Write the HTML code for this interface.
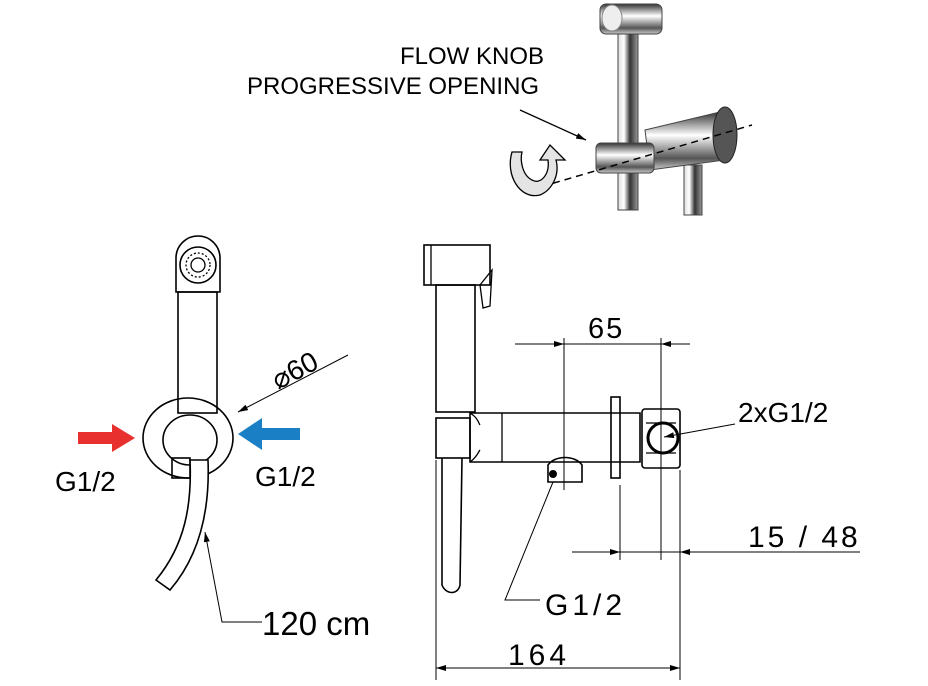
<!DOCTYPE html>
<html><head><style>
html,body{margin:0;padding:0;background:#fff}
svg{display:block}
text{font-family:"Liberation Sans",sans-serif;fill:#000}
</style></head><body>
<svg width="928" height="686" viewBox="0 0 928 686" xmlns="http://www.w3.org/2000/svg">
<defs>
<marker id="ah" markerWidth="10" markerHeight="6" refX="10" refY="3" orient="auto" markerUnits="userSpaceOnUse"><path d="M0,0 L10,3 L0,6 Z" fill="#000"/></marker>
<linearGradient id="chr" x1="0" x2="1"><stop offset="0" stop-color="#ddd"/><stop offset="0.3" stop-color="#fff"/><stop offset="0.6" stop-color="#333"/><stop offset="1" stop-color="#999"/></linearGradient>
<linearGradient id="chrv" x1="0" y1="0" x2="0" y2="1"><stop offset="0" stop-color="#333"/><stop offset="0.4" stop-color="#fff"/><stop offset="0.8" stop-color="#555"/><stop offset="1" stop-color="#ccc"/></linearGradient>
</defs>
<g stroke="#000" fill="none" stroke-width="2">
<!-- top product -->
<text x="400" y="64" font-size="24" stroke="none">FLOW KNOB</text>
<text x="247" y="94" font-size="24" stroke="none">PROGRESSIVE OPENING</text>
<line x1="520" y1="110" x2="586" y2="140" stroke-width="1.3" marker-end="url(#ah)"/>
<rect x="618" y="30" width="20" height="180" fill="url(#chr)" stroke="#444" stroke-width="1"/>
<rect x="600" y="4" width="62" height="30" rx="6" fill="url(#chrv)" stroke="#444" stroke-width="1"/>
<ellipse cx="612" cy="18" rx="10" ry="13" fill="#eee" stroke="#888" stroke-width="1"/>
<rect x="684" y="165" width="18" height="50" fill="url(#chr)" stroke="#444" stroke-width="1"/>
<path d="M645 130 L720 112 L725 160 L650 170 Z" fill="url(#chrv)" stroke="#444" stroke-width="1"/>
<ellipse cx="725" cy="135" rx="12" ry="28" fill="#555" stroke="#222" stroke-width="1"/>
<rect x="596" y="143" width="58" height="30" rx="5" fill="url(#chrv)" stroke="#444" stroke-width="1"/>
<line x1="530" y1="190" x2="752" y2="125" stroke-width="1.5" stroke-dasharray="7,5"/>
<path d="M512 152 C505 175 520 200 540 195 C552 190 560 175 556 160 L565 160 L550 145 L540 160 L548 160 C550 175 540 185 532 180 C522 175 520 160 522 152 Z" fill="#e4e4e4" stroke-width="1.3"/>
<!-- left view -->
<path d="M176 292 L176 258 A22 22 0 0 1 220 258 L220 292 Z" stroke-width="1.6"/>
<circle cx="198" cy="265" r="18" stroke-width="1.6"/>
<circle cx="198" cy="265" r="12" stroke-width="1.3" stroke-dasharray="2,2"/>
<circle cx="198" cy="265" r="7" stroke-width="1.3"/>
<rect x="178" y="292" width="39" height="121" stroke-width="1.6"/>
<ellipse cx="188" cy="438" rx="45" ry="40" stroke-width="1.6"/>
<ellipse cx="190" cy="440" rx="27" ry="25" stroke-width="1.6"/>
<rect x="172" y="458" width="18" height="20" stroke-width="1.6"/>
<path d="M190 460 L208 460 C210 510 200 555 170 590 L156 580 C185 545 192 505 190 460 Z" stroke-width="1.6" fill="#fff"/>
<polyline points="262,622 222,622 205,532" stroke-width="1" marker-end="url(#ah)"/>
<text x="262" y="635" font-size="33" stroke="none">120 cm</text>
<line x1="348" y1="355" x2="238" y2="412" stroke-width="1" marker-end="url(#ah)"/>
<text x="0" y="0" font-size="28" stroke="none" transform="translate(278,390) rotate(-28)">⌀60</text>
<path d="M78 432 L112 432 L112 424 L135 438 L112 452 L112 444 L78 444 Z" fill="#e8302f" stroke="none"/>
<path d="M300 428 L262 428 L262 418 L238 434 L262 450 L262 440 L300 440 Z" fill="#1a7fc4" stroke="none"/>
<text x="55" y="491" font-size="28" stroke="none">G1/2</text>
<text x="255" y="486" font-size="28" stroke="none">G1/2</text>
<!-- right view -->
<rect x="424" y="245" width="66" height="40" stroke-width="1.6"/>
<line x1="431" y1="245" x2="431" y2="285" stroke-width="1.3"/>
<path d="M480 285 L492 270 L490 306 L483 308 Z" stroke-width="1.3"/>
<rect x="436" y="285" width="39" height="127" stroke-width="1.6"/>
<path d="M470 413 L640 413 L640 462 L470 462 Z" stroke-width="1.6"/>
<path d="M470 413 C478 418 478 422 480 425 M470 462 C478 456 478 452 480 450" stroke-width="1.3"/>
<line x1="502" y1="413" x2="502" y2="462" stroke-width="1.3"/>
<rect x="436" y="418" width="34" height="40" stroke-width="1.6"/>
<path d="M442 458 L442 585 C446 595 458 595 460 585 L462 458" stroke-width="1.6"/>
<rect x="611" y="397" width="9" height="81" stroke-width="1.6"/>
<rect x="642" y="409" width="38" height="59" rx="3" stroke-width="1.6"/>
<line x1="646" y1="423" x2="676" y2="423" stroke-width="1.2"/>
<line x1="646" y1="453" x2="676" y2="453" stroke-width="1.2"/>
<circle cx="663" cy="438" r="15" stroke-width="3"/>
<path d="M548 482 L548 465 C555 455 575 455 582 465 L582 482 Z" stroke-width="1.6"/>
<circle cx="553" cy="474" r="3" fill="#000"/>
<!-- dims -->
<g stroke-width="1">
<line x1="564" y1="338" x2="564" y2="490"/>
<line x1="661" y1="338" x2="661" y2="560"/>
<line x1="515" y1="344" x2="690" y2="344"/>
<line x1="540" y1="344" x2="564" y2="344" marker-end="url(#ah)"/>
<line x1="688" y1="344" x2="661" y2="344" marker-end="url(#ah)"/>
<line x1="620" y1="485" x2="620" y2="560"/>
<line x1="680" y1="470" x2="680" y2="680"/>
<line x1="572" y1="552" x2="860" y2="552"/>
<line x1="595" y1="552" x2="620" y2="552" marker-end="url(#ah)"/>
<line x1="705" y1="552" x2="680" y2="552" marker-end="url(#ah)"/>
<line x1="436" y1="460" x2="436" y2="680"/>
<line x1="436" y1="668" x2="680" y2="668"/>
<line x1="460" y1="668" x2="436" y2="668" marker-end="url(#ah)"/>
<line x1="655" y1="668" x2="680" y2="668" marker-end="url(#ah)"/>
<line x1="735" y1="424" x2="664" y2="437" marker-end="url(#ah)"/>
<polyline points="553,482 505,600 540,600"/>
</g>
<text x="588" y="338" font-size="29" letter-spacing="2" stroke="none">65</text>
<text x="748" y="547" font-size="30" letter-spacing="3" stroke="none">15 / 48</text>
<text x="508" y="665" font-size="30" letter-spacing="4" stroke="none">164</text>
<text x="738" y="422" font-size="28" stroke="none">2xG1/2</text>
<text x="545" y="615" font-size="30" letter-spacing="4" stroke="none">G1/2</text>
</g>
</svg>
</body></html>
